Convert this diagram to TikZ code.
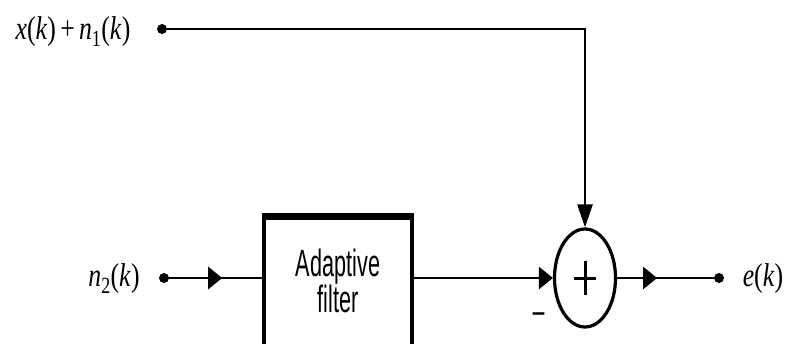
\documentclass[tikz,border=0pt]{standalone}
\usepackage{fontspec}
\setmainfont{Liberation Serif}
\setsansfont{Liberation Sans}
\usetikzlibrary{arrows.meta,shapes.geometric,decorations.markings}
\tikzset{
  wire/.style={line width=2.6pt},
  dotnode/.style={circle,fill=black,inner sep=0pt,minimum size=10pt},
  sig/.style={inner sep=0pt,font=\fontsize{33}{33}\selectfont},
  hTip/.style={-{Triangle[length=14pt,width=22pt]}},
  vTip/.style={-{Triangle[length=23pt,width=15pt]}},
  midarrow/.style={postaction={decorate},decoration={markings,mark=at position #1 with {\arrow{Triangle[length=14pt,width=22pt]}}}},
  sumnode/.style={ellipse,draw,line width=3.2pt,minimum width=61pt,minimum height=98pt,inner sep=0pt}
}
\newcommand{\myit}[1]{\textit{#1}}
\begin{document}
\begin{tikzpicture}[x=1pt,y=-1pt]
\useasboundingbox (0,0) rectangle (787,343);
\clip (0,0) rectangle (787,343);
% signal labels and terminals
\node[sig] (t1) at (73,32) {\scalebox{0.78}[1]{\myit{x}(\myit{k})\,+\,\myit{n}\textsubscript{1}(\myit{k})}};
\node[dotnode] (d1) at (162,29) {};
\node[sig] (t2) at (114,279) {\scalebox{0.78}[1]{\myit{n}\textsubscript{2}(\myit{k})}};
\node[dotnode] (d2) at (164,278) {};
\node[sig] (t3) at (763,279) {\scalebox{0.78}[1]{\myit{e}(\myit{k})}};
\node[dotnode] (d3) at (719,278) {};
% adaptive filter box (extends below the picture)
\node[draw,line width=4pt,minimum width=148pt,minimum height=142pt,inner sep=0pt] (af) at (338,289) {};
\draw[line width=6.5pt] (af.north west) -- (af.north east);
\node[font=\sffamily\fontsize{38}{29}\selectfont,align=center,inner sep=0pt] (aft) at (338,281)
  {\scalebox{0.57}[1]{Adaptive}\\\scalebox{0.57}[1]{filter}};
% summing junction
\node[sumnode] (sum) at (585,278) {};
\draw[line width=3pt] ([xshift=-11pt]sum.center) -- ([xshift=11pt]sum.center);
\draw[line width=3pt] ([yshift=-17pt]sum.center) -- ([yshift=17pt]sum.center);
\node[font=\sffamily\fontsize{32}{32}\selectfont,inner sep=0pt] (minus) at (538.5,318) {\scalebox{1.5}[1]{-}};
% connectors
\draw[wire,vTip] (d1) -- (d1 -| sum) -- (sum.north);
\draw[wire,midarrow=53pt] (d2) -- (d2 -| af.west);
\draw[wire,hTip] (af.east |- sum) -- (sum.west);
\draw[wire,midarrow=40pt] (sum.east) -- (d3);
\end{tikzpicture}
\end{document}
